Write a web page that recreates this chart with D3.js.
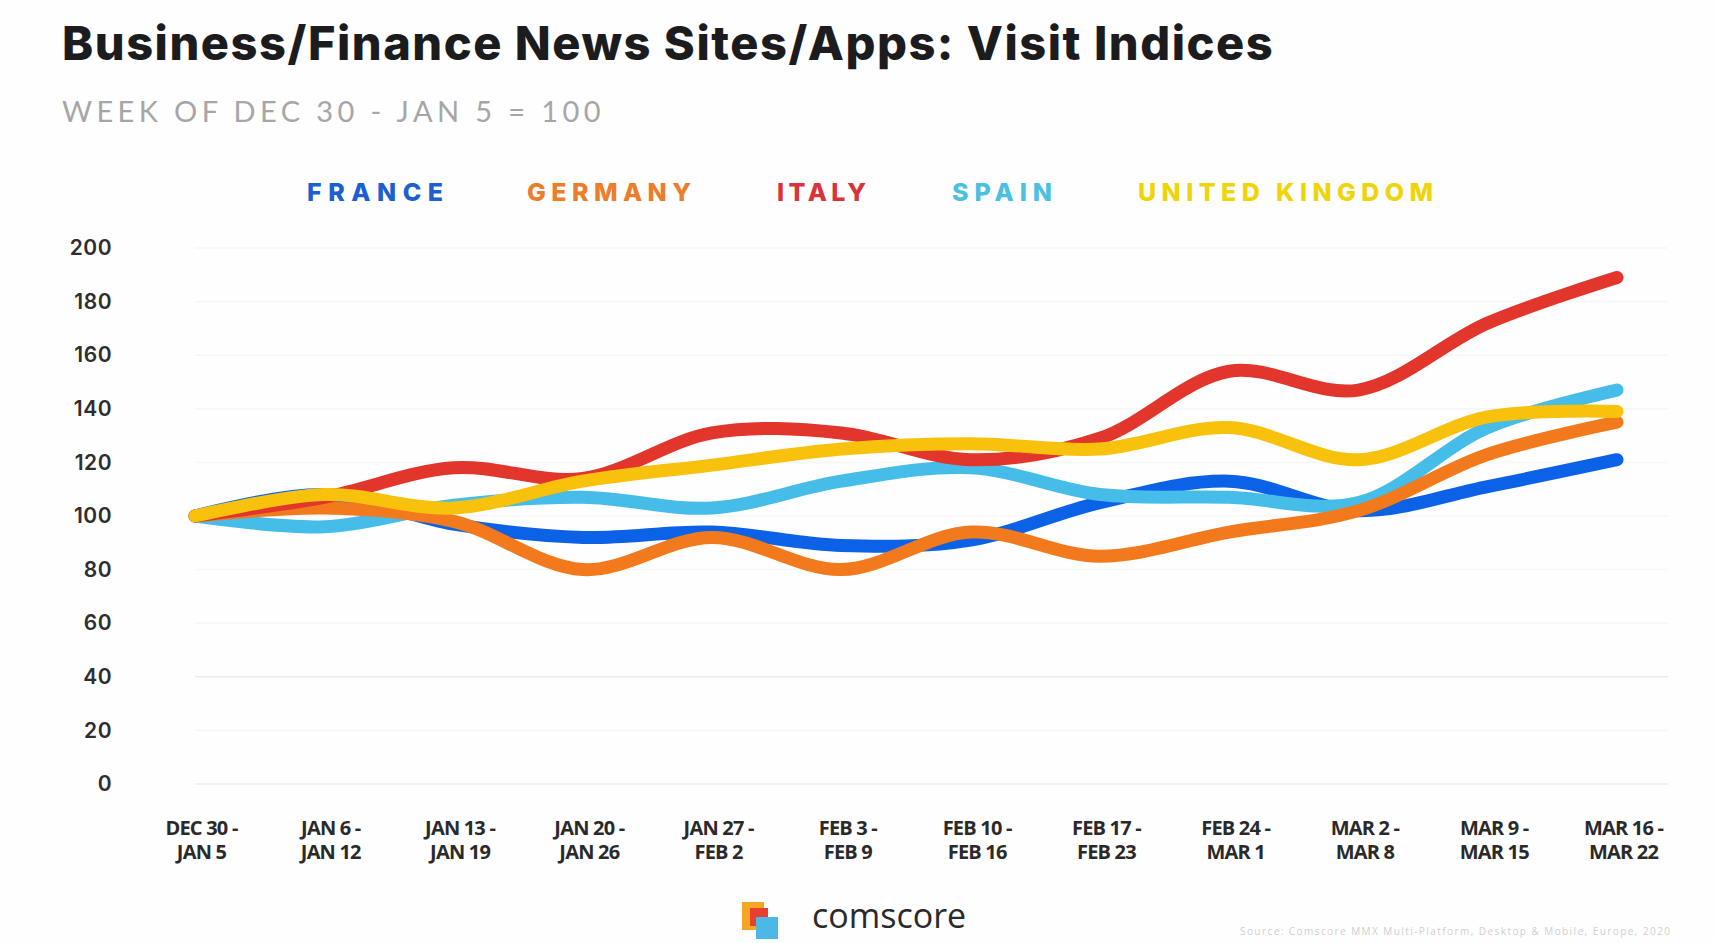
<!DOCTYPE html>
<html>
<head>
<meta charset="utf-8">
<script src="https://cdn.jsdelivr.net/npm/d3@7"></script>
<style>
  html, body { margin: 0; padding: 0; background: #fff; }
  svg { display: block; }
</style>
</head>
<body>
<div id="chart"></div>
<script>
const weeks = [
  ["DEC 30 -", "JAN 5"], ["JAN 6 -", "JAN 12"], ["JAN 13 -", "JAN 19"],
  ["JAN 20 -", "JAN 26"], ["JAN 27 -", "FEB 2"], ["FEB 3 -", "FEB 9"],
  ["FEB 10 -", "FEB 16"], ["FEB 17 -", "FEB 23"], ["FEB 24 -", "MAR 1"],
  ["MAR 2 -", "MAR 8"], ["MAR 9 -", "MAR 15"], ["MAR 16 -", "MAR 22"]
];
const yTicks = [0, 20, 40, 60, 80, 100, 120, 140, 160, 180, 200];

const france  = [100, 108, 97, 92, 94, 89, 91, 105, 113, 102, 111, 121];
const germany = [100, 103, 98, 80, 92, 80, 94, 85, 94, 102, 123, 135];
const italy   = [100, 107, 118, 114, 131, 131, 121, 129, 154, 147, 172, 189];
const spain   = [100, 96, 104, 107, 103, 113, 118, 108, 107, 105, 133, 147];
const uk      = [100, 108, 103, 113, 119, 125, 127, 125, 133, 121, 137, 139];

const series = [
  {name: "FRANCE", values: france, color: "#0b62e6", text: "#1b5fd0"},
  {name: "SPAIN", values: spain, color: "#45bde8", text: "#4cc0e0"},
  {name: "GERMANY", values: germany, color: "#f27a1c", text: "#ec7d2a"},
  {name: "ITALY", values: italy, color: "#e2352b", text: "#d8343a"},
  {name: "UNITED KINGDOM", values: uk, color: "#f8c10c", text: "#f0d40a"}
];
const legendOrder = ["FRANCE", "GERMANY", "ITALY", "SPAIN", "UNITED KINGDOM"];

const width = 1715, height = 943;
const svg = d3.select("#chart").append("svg")
    .attr("width", width)
    .attr("height", height)
    .attr("viewBox", [0, 0, width, height]);

svg.append("rect").attr("width", width).attr("height", height).attr("fill", "#fefefe");

const x = d3.scalePoint(d3.range(weeks.length), [195, 1617]);
const y = d3.scaleLinear([0, 200], [784, 248]);

// title
svg.append("text")
    .attr("x", 62).attr("y", 60)
    .attr("font-family", "Inter, 'Open Sans', sans-serif")
    .attr("font-weight", 800)
    .attr("font-size", 47)
    .attr("letter-spacing", -0.8)
    .attr("fill", "#1c1c1e")
    .attr("textLength", 1210)
    .text("Business/Finance News Sites/Apps: Visit Indices");

svg.append("text")
    .attr("x", 62).attr("y", 122)
    .attr("font-family", "Lato, 'Open Sans', sans-serif")
    .attr("font-weight", 400)
    .attr("font-size", 29)
    .attr("letter-spacing", 1.5)
    .attr("fill", "#a6a6a6")
    .attr("textLength", 540)
    .text("WEEK OF DEC 30 - JAN 5 = 100");

// legend
const legendX = {"FRANCE": [307, 136], "GERMANY": [527, 164], "ITALY": [777, 89], "SPAIN": [952, 100], "UNITED KINGDOM": [1138, 295]};
svg.append("g")
  .selectAll("text")
  .data(legendOrder)
  .join("text")
    .attr("x", d => legendX[d][0])
    .attr("y", 201)
    .attr("textLength", d => legendX[d][1])
    .attr("font-family", "Inter, 'Open Sans', sans-serif")
    .attr("font-weight", 800)
    .attr("font-size", 25)
    .attr("fill", d => series.find(s => s.name === d).text)
    .text(d => d);

// grid
svg.append("g")
  .selectAll("line")
  .data(yTicks)
  .join("line")
    .attr("x1", 195).attr("x2", 1668)
    .attr("y1", d => y(d)).attr("y2", d => y(d))
    .attr("stroke", d => (d === 0 || d === 40) ? "#ebebeb" : "#f6f6f6")
    .attr("stroke-width", 1.5);

// y axis
const yAxis = d3.axisLeft(y).tickValues(yTicks).tickSize(0).tickPadding(0);
svg.append("g")
    .attr("transform", "translate(112,0)")
    .call(yAxis)
    .call(g => g.select(".domain").remove())
    .call(g => g.selectAll("text")
        .attr("font-family", "Inter, 'Open Sans', sans-serif")
        .attr("font-weight", 600)
        .attr("font-size", 21)
        .attr("letter-spacing", 0.5)
        .attr("fill", "#2e2e2e"));

// x axis labels, one text per line
const xAxis = d3.axisBottom(x).tickSize(0).tickFormat(() => "");
const xg = svg.append("g")
    .attr("transform", "translate(0,800)")
    .call(xAxis)
    .call(g => g.select(".domain").remove());
xg.selectAll(".tick").selectAll(".wk")
    .data(i => weeks[i])
    .join("text")
      .attr("class", "wk")
      .attr("fill", "#2a2a2a")
      .attr("font-family", "'Open Sans', sans-serif")
      .attr("font-weight", 700)
      .attr("font-size", 20)
      .attr("letter-spacing", -0.8)
      .attr("text-anchor", "middle")
      .attr("x", 6)
      .attr("y", (d, j) => 35 + j * 24)
      .text(d => d);

// lines
const line = d3.line()
    .x((d, i) => x(i))
    .y(d => y(d))
    .curve(d3.curveCatmullRom.alpha(0.5));

svg.append("g")
  .selectAll("path")
  .data(series)
  .join("path")
    .attr("d", d => line(d.values))
    .attr("fill", "none")
    .attr("stroke", d => d.color)
    .attr("stroke-width", 13)
    .attr("stroke-linecap", "round")
    .attr("stroke-linejoin", "round");

// comscore logo
const logo = svg.append("g").attr("transform", "translate(742,902)");
logo.append("rect").attr("x", 0).attr("y", 0).attr("width", 22).attr("height", 28).attr("fill", "#f6a623");
logo.append("rect").attr("x", 8).attr("y", 6).attr("width", 18).attr("height", 18).attr("fill", "#e8402e");
logo.append("rect").attr("x", 14).attr("y", 15).attr("width", 22).attr("height", 22).attr("fill", "#4cb8e8");
svg.append("text")
    .attr("x", 812).attr("y", 928)
    .attr("font-family", "'Open Sans', sans-serif")
    .attr("font-size", 34)
    .attr("fill", "#2a2a2a")
    .text("comscore");

svg.append("text")
    .attr("x", 1240).attr("y", 935)
    .attr("font-family", "'Open Sans', sans-serif")
    .attr("font-size", 10)
    .attr("fill", "#cfcfcf")
    .attr("textLength", 430)
    .text("Source: Comscore MMX Multi-Platform, Desktop & Mobile, Europe, 2020");
</script>
</body>
</html>
